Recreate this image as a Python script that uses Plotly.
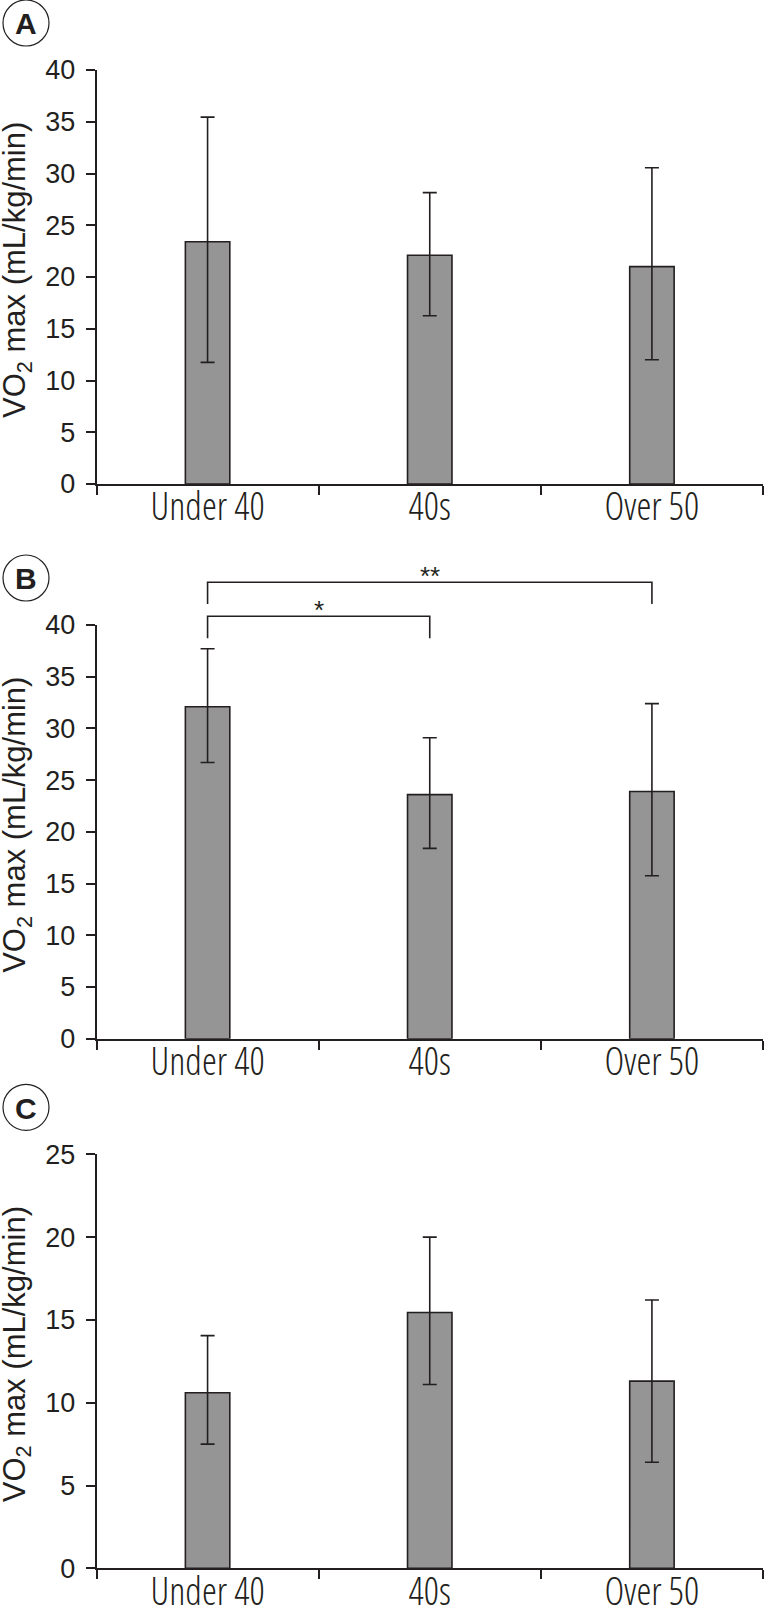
import plotly.graph_objects as go

# ---------------- data ----------------
categories = ["Under 40", "40s", "Over 50"]

a_mean = [23.4, 22.1, 21.0]
a_err_plus = [12.05, 6.05, 9.55]
a_err_minus = [11.65, 5.85, 9.0]

b_mean = [32.1, 23.6, 23.9]
b_err_plus = [5.6, 5.5, 8.5]
b_err_minus = [5.4, 5.2, 8.15]

c_mean = [10.6, 15.45, 11.3]
c_err_plus = [3.45, 4.55, 4.9]
c_err_minus = [3.1, 4.35, 4.9]

panel_letters = ["A", "B", "C"]
y_ranges = [[0, 40], [0, 40], [0, 25]]

# significance brackets for panel B: (from, to, label)
brackets = [("Under 40", "40s", "*"), ("Under 40", "Over 50", "**")]
bracket_levels = [(40.84, 38.71), (44.13, 42.03)]  # (bar height, leg bottom) in y units

# ---------------- layout constants ----------------
W, H = 767, 1607
INK = "#231f20"
BAR = "#959595"
CAT_FONT = "Open Sans Condensed Light, Liberation Sans Narrow, Liberation Sans"

def py2paper(py):
    return 1 - py / H

def px2paper(px):
    return px / W

# pixel positions of (bottom, top) of each y-axis
ypix = [(484, 70), (1038.7, 625), (1568.3, 1154.3)]
xdom = [px2paper(96.5), px2paper(763)]

fig = go.Figure()

panels = [
    (a_mean, a_err_plus, a_err_minus),
    (b_mean, b_err_plus, b_err_minus),
    (c_mean, c_err_plus, c_err_minus),
]

for i, (mean, ep, em) in enumerate(panels):
    sfx = "" if i == 0 else str(i + 1)
    fig.add_trace(go.Bar(
        x=categories, y=mean,
        xaxis="x" + sfx, yaxis="y" + sfx,
        width=0.2,
        marker=dict(color=BAR, line=dict(color=INK, width=1.6)),
        error_y=dict(type="data", symmetric=False, array=ep, arrayminus=em,
                     color=INK, thickness=1.6, width=7),
        showlegend=False,
    ))
    ydom = [py2paper(ypix[i][0]), py2paper(ypix[i][1])]
    fig.update_layout(**{
        "xaxis" + sfx: dict(
            domain=xdom, anchor="y" + sfx, type="category",
            range=[-0.5, 2.5], tickson="boundaries",
            ticks="outside", ticklen=9, tickwidth=1.5, tickcolor=INK,
            showline=True, linecolor=INK, linewidth=1.6,
            showgrid=False, zeroline=False, automargin=False,
            tickfont=dict(family=CAT_FONT, size=38, color=INK),
            ticklabelstandoff=-11,
        ),
        "yaxis" + sfx: dict(
            domain=ydom, anchor="x" + sfx,
            range=y_ranges[i], dtick=5, tick0=0,
            ticks="outside", ticklen=9, tickwidth=1.5, tickcolor=INK,
            showline=True, linecolor=INK, linewidth=1.6,
            showgrid=False, zeroline=False, automargin=False,
            tickfont=dict(family="Liberation Sans, Arial", size=27, color=INK),
            ticklabelstandoff=5,
        ),
    })
    # y-axis title
    yc = (ypix[i][0] + ypix[i][1]) / 2 - 7
    fig.add_annotation(
        xref="paper", yref="paper", x=px2paper(17), y=py2paper(yc),
        text="VO<sub>2</sub> max (mL/kg/min)", textangle=-90,
        showarrow=False, xanchor="center", yanchor="middle",
        font=dict(family="Liberation Sans, Arial", size=31, color=INK),
    )
    # panel letter in circle
    cy = ypix[i][1] - 47
    fig.add_shape(type="circle", xref="paper", yref="paper",
                  x0=px2paper(3), x1=px2paper(49), y0=py2paper(cy + 23), y1=py2paper(cy - 23),
                  line=dict(color=INK, width=1.2))
    fig.add_annotation(
        xref="paper", yref="paper", x=px2paper(26), y=py2paper(cy + 1),
        text="<b>%s</b>" % panel_letters[i], showarrow=False,
        xanchor="center", yanchor="middle",
        font=dict(family="Liberation Sans, Arial", size=30, color=INK),
    )

# brackets on panel B (y mapped through axis domain/range to paper)
d0, d1 = py2paper(ypix[1][0]), py2paper(ypix[1][1])
r0, r1 = y_ranges[1]

def yb(v):
    return d0 + (v - r0) / (r1 - r0) * (d1 - d0)

for (c_from, c_to, lab), (top, leg) in zip(brackets, bracket_levels):
    i0, i1 = categories.index(c_from), categories.index(c_to)
    fig.add_shape(type="path", xref="x2", yref="paper",
                  path="M %d,%f L %d,%f L %d,%f L %d,%f" % (i0, yb(leg), i0, yb(top), i1, yb(top), i1, yb(leg)),
                  line=dict(color=INK, width=1.6))
    fig.add_annotation(xref="x2", yref="paper", x=(i0 + i1) / 2, y=yb(top + 0.65),
                       text=lab, showarrow=False, xanchor="center", yanchor="middle",
                       font=dict(family="Liberation Sans, Arial", size=26, color=INK))

fig.update_layout(
    template="none",
    width=W, height=H,
    margin=dict(l=0, r=0, t=0, b=0, pad=0, autoexpand=False),
    paper_bgcolor="white", plot_bgcolor="white",
    bargap=0.8,
)

fig.write_html("out.html", config={"displayModeBar": False},
               post_script="document.body.style.margin='0px';")
